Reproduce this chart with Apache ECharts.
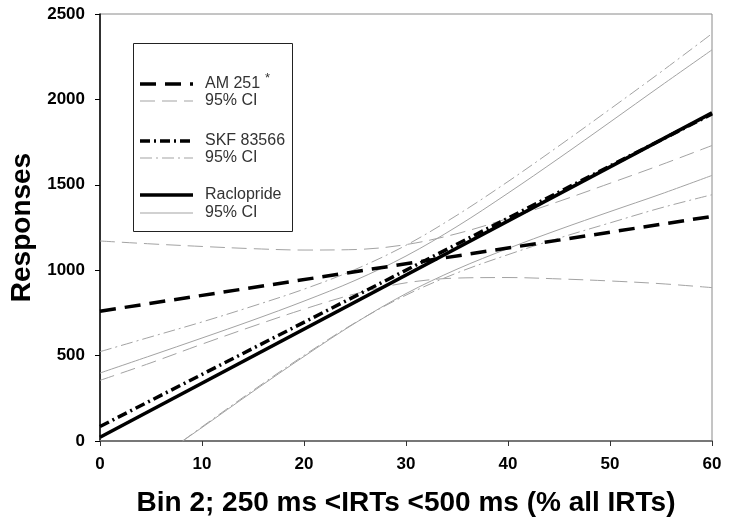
<!DOCTYPE html>
<html>
<head>
<meta charset="utf-8">
<script src="https://cdn.jsdelivr.net/npm/echarts@6/dist/echarts.min.js"></script>
<style>
html,body{margin:0;padding:0;background:#fff;}
#chart{width:730px;height:530px;}
</style>
</head>
<body>
<div id="chart"></div>
<script>
// ---- data ----
var xTicks = [0, 10, 20, 30, 40, 50, 60];
var yTicks = [0, 500, 1000, 1500, 2000, 2500];
var xs = [0, 5, 10, 15, 20, 25, 30, 35, 40, 45, 50, 55, 60];

var am251Line = [[0, 760], [60, 1315]];
var am251Upper = [1171, 1154, 1139, 1126, 1118, 1121, 1150, 1214, 1303, 1403, 1509, 1617, 1730];
var am251Lower = [355, 458, 567, 672, 772, 861, 926, 954, 957, 949, 937, 921, 898];

var skfLine = [[0, 85], [60, 1915]];
var skfUpper = [523, 610, 697, 790, 889, 1004, 1146, 1322, 1519, 1728, 1943, 2161, 2385];
var skfLowerX = [8.1, 10, 15, 20, 25, 30, 35, 40, 45, 50, 55, 60];
var skfLower = [0, 83, 296, 501, 692, 854, 984, 1091, 1188, 1277, 1365, 1442];

var racLine = [[0, 22], [60, 1921]];
var racUpper = [398, 500, 603, 708, 819, 940, 1083, 1256, 1451, 1656, 1867, 2080, 2290];
var racLowerX = [8.1, 10, 15, 20, 25, 30, 35, 40, 45, 50, 55, 60];
var racLower = [0, 79, 290, 495, 690, 863, 1006, 1127, 1238, 1343, 1446, 1555];

function pairs(xArr, yArr) { return xArr.map(function (x, i) { return [x, yArr[i]]; }); }

var CI_GRAY = '#a3a3a3';
var FONT = '"Liberation Sans", Arial, sans-serif';

var chart = echarts.init(document.getElementById('chart'), null, {renderer: 'canvas'});

function ciSeries(name, data, dash) {
  return {
    name: name, type: 'line', data: data, smooth: 0.35, showSymbol: false, symbol: 'none',
    lineStyle: {color: CI_GRAY, width: 1, type: dash}, z: 2, silent: true, animation: false
  };
}
function mainSeries(name, data, dash, w) {
  return {
    name: name, type: 'line', data: data, showSymbol: false, symbol: 'none',
    lineStyle: {color: '#000', width: w, type: dash}, z: 5, silent: true, animation: false
  };
}

// legend (drawn as graphics)
var LX1 = 140, LX2 = 193, TX = 205;
var legendRows = [
  {y: 84,  text: 'AM 251', dash: [16, 9], w: 3.5, color: '#000'},
  {y: 101, text: '95% CI', dash: [15, 7], w: 1, color: CI_GRAY},
  {y: 141, text: 'SKF 83566', dash: [10, 4, 2, 4], w: 3.5, color: '#000'},
  {y: 158, text: '95% CI', dash: [12, 4, 2, 4], w: 1, color: CI_GRAY},
  {y: 195, text: 'Raclopride', dash: null, w: 3.5, color: '#000'},
  {y: 213, text: '95% CI', dash: null, w: 1, color: CI_GRAY}
];
var graphics = [{
  type: 'rect', shape: {x: 133.5, y: 43.5, width: 159, height: 188},
  style: {fill: '#fff', stroke: '#222', lineWidth: 1}, z: 10
}];
legendRows.forEach(function (r) {
  graphics.push({
    type: 'line', shape: {x1: LX1, y1: r.y, x2: LX2, y2: r.y},
    style: {stroke: r.color, lineWidth: r.w, lineDash: r.dash}, z: 11
  });
  graphics.push({
    type: 'text', x: TX, y: r.y,
    style: {text: r.text, fill: '#333', font: '16px ' + FONT, verticalAlign: 'middle', align: 'left'}, z: 11
  });
});
graphics.push({
  type: 'text', x: 265, y: 78,
  style: {text: '*', fill: '#333', font: '13px ' + FONT, verticalAlign: 'middle', align: 'left'}, z: 11
});

var option = {
  backgroundColor: '#fff',
  animation: false,
  grid: {left: 100, right: 18, top: 14, bottom: 89, containLabel: false, outerBoundsMode: 'none',
    show: true, borderColor: '#8a8a8a', borderWidth: 1, backgroundColor: 'transparent'},
  xAxis: {
    type: 'value', min: 0, max: 60, interval: 10,
    name: 'Bin 2; 250 ms <IRTs <500 ms (% all IRTs)', nameLocation: 'middle', nameGap: 48,
    nameTextStyle: {fontSize: 28, fontWeight: 'bold', color: '#000', fontFamily: FONT},
    axisLine: {show: true, lineStyle: {color: '#777', width: 2}},
    axisTick: {show: true, inside: false, length: 5, lineStyle: {color: '#333'}},
    axisLabel: {fontSize: 17, fontWeight: 'bold', color: '#000', fontFamily: FONT, margin: 15,
      formatter: function (v) { return xTicks.indexOf(v) >= 0 ? String(v) : ''; }},
    splitLine: {show: false}
  },
  yAxis: {
    type: 'value', min: 0, max: 2500, interval: 500,
    name: 'Responses', nameLocation: 'middle', nameGap: 63, nameRotate: 90,
    nameTextStyle: {fontSize: 28, fontWeight: 'bold', color: '#000', fontFamily: FONT},
    axisLine: {show: true, lineStyle: {color: '#000', width: 1.5}},
    axisTick: {show: true, inside: false, length: 5, lineStyle: {color: '#000'}},
    axisLabel: {fontSize: 17, fontWeight: 'bold', color: '#000', fontFamily: FONT, margin: 15,
      formatter: function (v) { return yTicks.indexOf(v) >= 0 ? String(v) : ''; }},
    splitLine: {show: false}
  },
  series: [
    ciSeries('AM 251 CI upper', pairs(xs, am251Upper), [15, 7]),
    ciSeries('AM 251 CI lower', pairs(xs, am251Lower), [15, 7]),
    ciSeries('SKF 83566 CI upper', pairs(xs, skfUpper), [12, 4, 2, 4]),
    ciSeries('SKF 83566 CI lower', pairs(skfLowerX, skfLower), [12, 4, 2, 4]),
    ciSeries('Raclopride CI upper', pairs(xs, racUpper), 'solid'),
    ciSeries('Raclopride CI lower', pairs(racLowerX, racLower), 'solid'),
    mainSeries('AM 251', am251Line, [16, 9], 3.5),
    mainSeries('SKF 83566', skfLine, [10, 4, 2, 4], 3.5),
    mainSeries('Raclopride', racLine, 'solid', 3.5)
  ],
  graphic: graphics
};
chart.setOption(option);
</script>
</body>
</html>
